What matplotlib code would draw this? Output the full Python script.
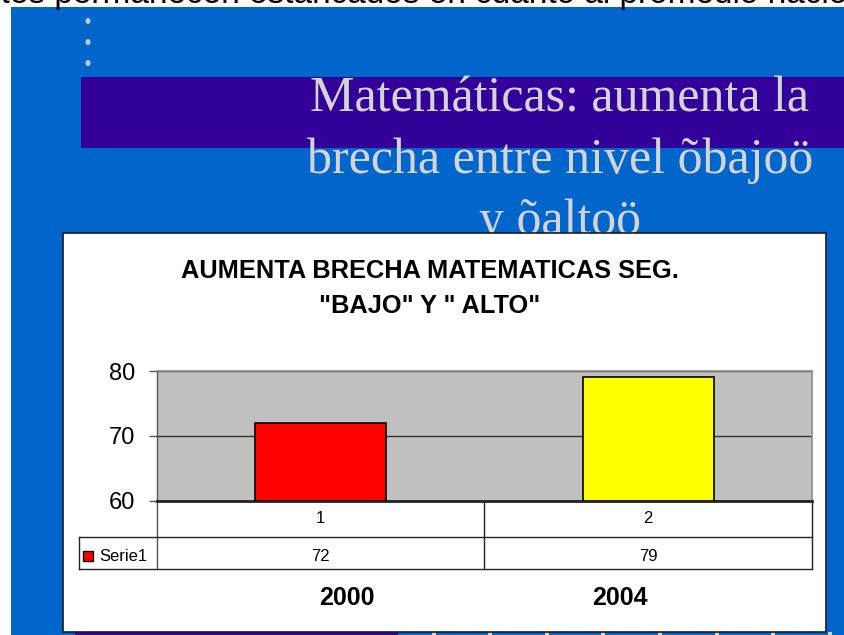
import matplotlib
matplotlib.use("Agg")
import matplotlib.pyplot as plt
from matplotlib.patches import Rectangle, Ellipse

# ---- data ----
categories = ["1", "2"]
values = [72, 79]
bar_colors = ["#FF0000", "#FFFF00"]
series_name = "Serie1"
years = ["2000", "2004"]
yticks = [60, 70, 80]
chart_title_lines = ["AUMENTA BRECHA MATEMATICAS SEG.", "\"BAJO\" Y \" ALTO\""]
slide_title_lines = ["Matemáticas: aumenta la", "brecha entre nivel õbajoö", "y õaltoö"]
top_text = "ntes permanecen estancados en cuanto al promedio nacional"

W, H = 845, 635
fig = plt.figure(figsize=(W / 100, H / 100), dpi=100)
fig.patch.set_facecolor("white")

SANS = ["Liberation Sans", "DejaVu Sans"]
SERIF = ["Liberation Serif", "DejaVu Serif"]

# background axes in pixel coordinates
bg = fig.add_axes([0, 0, 1, 1], zorder=0)
bg.set_xlim(0, W)
bg.set_ylim(H, 0)
bg.axis("off")

# top cut-off text
bg.text(-18, 2.5, top_text, fontsize=24, family=SANS, color="black",
        ha="left", va="baseline", clip_on=True)

# blue slide
bg.add_patch(Rectangle((11, 7), W - 11, H - 7, facecolor="#0066CC", edgecolor="none", zorder=1))
# bullets
for yy in [21, 42, 63]:
    bg.add_patch(Ellipse((88, yy), 5, 6, facecolor="#C8C8C8", edgecolor="none", zorder=2))
# purple band
bg.add_patch(Rectangle((81, 77), W - 81, 71, facecolor="#330099", edgecolor="none", zorder=2))
# slide title, one line at a time
for k, line in enumerate(slide_title_lines):
    bg.text(560, 112 + k * 61, line, fontsize=36, family=SERIF, color="#D4D4D4",
            ha="center", va="baseline", zorder=3)

# bottom purple strip and dots
bg.add_patch(Rectangle((75, 630), 323, 6, facecolor="#330099", edgecolor="none", zorder=3))
for xx in [434, 490, 547, 603, 660, 717, 773, 830]:
    bg.add_patch(Rectangle((xx - 2, 632), 4, 4, facecolor="#D0D0D0", edgecolor="none", zorder=3))

# chart box
bg.add_patch(Rectangle((63, 233), 763, 399, facecolor="white", edgecolor="#1A1A1A", lw=1.2, zorder=4))

# chart title
for k, line in enumerate(chart_title_lines):
    bg.text(430, 278 + k * 35, line, fontsize=18.3, family=SANS, fontweight="bold",
            color="black", ha="center", va="baseline", zorder=5)

# plot area
L, T, R, B = 157, 371, 812, 501
ax = fig.add_axes([L / W, 1 - B / H, (R - L) / W, (B - T) / H], zorder=5)
ax.set_facecolor("#C0C0C0")
x = list(range(len(values)))
ax.bar(x, [v - yticks[0] for v in values], bottom=yticks[0], width=0.4,
       color=bar_colors, edgecolor="black", linewidth=1.2, zorder=3)
ax.set_xlim(-0.5, len(values) - 0.5)
ax.set_ylim(yticks[0], yticks[-1])
ax.set_yticks(yticks)
ax.set_yticklabels([str(t) for t in yticks], fontsize=17, family=SANS)
ax.set_xticks([])
ax.yaxis.grid(True, color="#333333", linewidth=1)
ax.set_axisbelow(True)
for s in ["top", "right"]:
    ax.spines[s].set_color("#8C8C8C")
    ax.spines[s].set_linewidth(1.2)
ax.spines["left"].set_color("#555555")
ax.spines["left"].set_linewidth(1)
ax.spines["bottom"].set_color("#222222")
ax.spines["bottom"].set_linewidth(2)
ax.tick_params(axis="y", direction="out", length=6, width=1, color="#555555", pad=10)

# data table (pixel coords)
lc = "#222222"
row1_y, row2_y, row3_y = B, 537, 569
leg_x = 79
mid_x = L + (R - L) / 2
bg.plot([L, L], [B, row3_y], color="#555555", lw=1, zorder=6)
bg.plot([R, R], [B, row3_y], color=lc, lw=1, zorder=6)
bg.plot([mid_x, mid_x], [B, row3_y], color=lc, lw=1, zorder=6)
bg.plot([leg_x, R], [row2_y, row2_y], color=lc, lw=1, zorder=6)
bg.plot([leg_x, R], [row3_y, row3_y], color=lc, lw=1, zorder=6)
bg.plot([leg_x, leg_x], [row2_y, row3_y], color=lc, lw=1, zorder=6)
for i, (c, v) in enumerate(zip(categories, values)):
    cx = L + (i + 0.5) * (R - L) / len(values)
    bg.text(cx, 523, c, fontsize=12, family=SANS,
            ha="center", va="baseline", zorder=6)
    bg.text(cx, 561, str(v), fontsize=12, family=SANS,
            ha="center", va="baseline", zorder=6)
bg.add_patch(Rectangle((83, 551), 10, 10, facecolor=bar_colors[0], edgecolor="black", lw=1, zorder=6))
bg.text(99, 561, series_name, fontsize=12, family=SANS,
        ha="left", va="baseline", zorder=6)

# years
for xx, yr in zip([347, 620], years):
    bg.text(xx, 605, yr, fontsize=18, family=SANS, fontweight="bold",
            ha="center", va="baseline", zorder=6)

fig.savefig("out.png", dpi=100)
